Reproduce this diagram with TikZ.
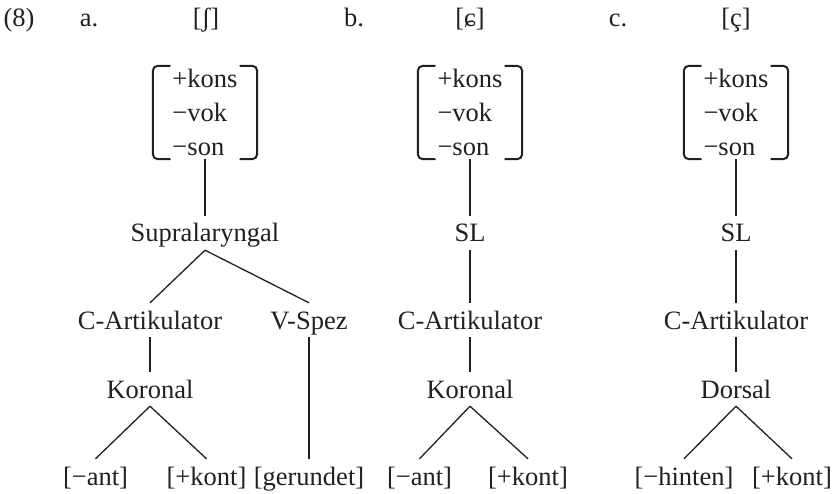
\documentclass[tikz,border=0pt]{standalone}
\usepackage{fontspec}
\setmainfont{Liberation Serif}
\definecolor{ink}{RGB}{35,31,32}

% brackets round a feature matrix node
\newcommand\featbrackets[1]{%
  \draw[brk] ([xshift=17pt]#1.north west) -- (#1.north west) -- (#1.south west) -- ([xshift=17pt]#1.south west);
  \draw[brk] ([xshift=-17pt]#1.north east) -- (#1.north east) -- (#1.south east) -- ([xshift=-17pt]#1.south east);
}

\begin{document}
\begin{tikzpicture}[x=1pt,y=-1pt,
  every node/.style={text=ink,font=\fontsize{26.5}{34}\selectfont},
  lab/.style={anchor=base,inner xsep=1pt,inner ysep=2pt,text height=24pt,text depth=6pt},
  head/.style={anchor=base,inner sep=0pt},
  feat/.style={align=left,minimum width=104pt,minimum height=93pt,inner sep=0pt},
  edge/.style={draw=ink,line width=1.3pt},
  brk/.style={draw=ink,line width=2pt,rounded corners=5pt,line cap=round}]
\useasboundingbox (0,0) rectangle (835,494);

% example number and column headings
\node[head] (num) at (19,27) {(8)};
\node[head] (ha) at (89,27) {a.};
\node[head] (sa) at (206,27) {[ʃ]};
\node[head] (hb) at (354,27) {b.};
\node[head] (sb) at (470,27) {[ɕ]};
\node[head] (hc) at (618,27) {c.};
\node[head] (sc) at (736,27) {[ç]};

% tree a
\node[feat] (fa) at (205,112.5) {+kons\\−vok\\−son};
\featbrackets{fa}
\node[lab] (supa) at (205,242) {Supralaryngal};
\node[lab] (cara) at (150,329) {C-Artikulator};
\node[lab] (vspez) at (309,329) {V-Spez};
\node[lab] (kora) at (150,398) {Koronal};
\node[lab] (anta) at (95.5,485) {[−ant]};
\node[lab] (konta) at (206.5,485) {[+kont]};
\node[lab] (gera) at (309,485) {[gerundet]};
\draw[edge] (fa.south) -- (supa.north);
\draw[edge] (supa.south) -- (cara.north);
\draw[edge] (supa.south) -- (vspez.north);
\draw[edge] (cara.south) -- (kora.north);
\draw[edge] (kora.south) -- (anta.north);
\draw[edge] (kora.south) -- (konta.north);
\draw[edge] (vspez.south) -- (gera.north);

% tree b
\node[feat] (fb) at (470,112.5) {+kons\\−vok\\−son};
\featbrackets{fb}
\node[lab] (slb) at (470,242) {SL};
\node[lab] (carb) at (470,329) {C-Artikulator};
\node[lab] (korb) at (470,398) {Koronal};
\node[lab] (antb) at (419.5,485) {[−ant]};
\node[lab] (kontb) at (528,485) {[+kont]};
\draw[edge] (fb.south) -- (slb.north);
\draw[edge] (slb.south) -- (carb.north);
\draw[edge] (carb.south) -- (korb.north);
\draw[edge] (korb.south) -- (antb.north);
\draw[edge] (korb.south) -- (kontb.north);

% tree c
\node[feat] (fc) at (736,112.5) {+kons\\−vok\\−son};
\featbrackets{fc}
\node[lab] (slc) at (736,242) {SL};
\node[lab] (carc) at (736,329) {C-Artikulator};
\node[lab] (dorc) at (736,398) {Dorsal};
\node[lab] (hinc) at (684,485) {[−hinten]};
\node[lab] (kontc) at (792,485) {[+kont]};
\draw[edge] (fc.south) -- (slc.north);
\draw[edge] (slc.south) -- (carc.north);
\draw[edge] (carc.south) -- (dorc.north);
\draw[edge] (dorc.south) -- (hinc.north);
\draw[edge] (dorc.south) -- (kontc.north);
\end{tikzpicture}
\end{document}
